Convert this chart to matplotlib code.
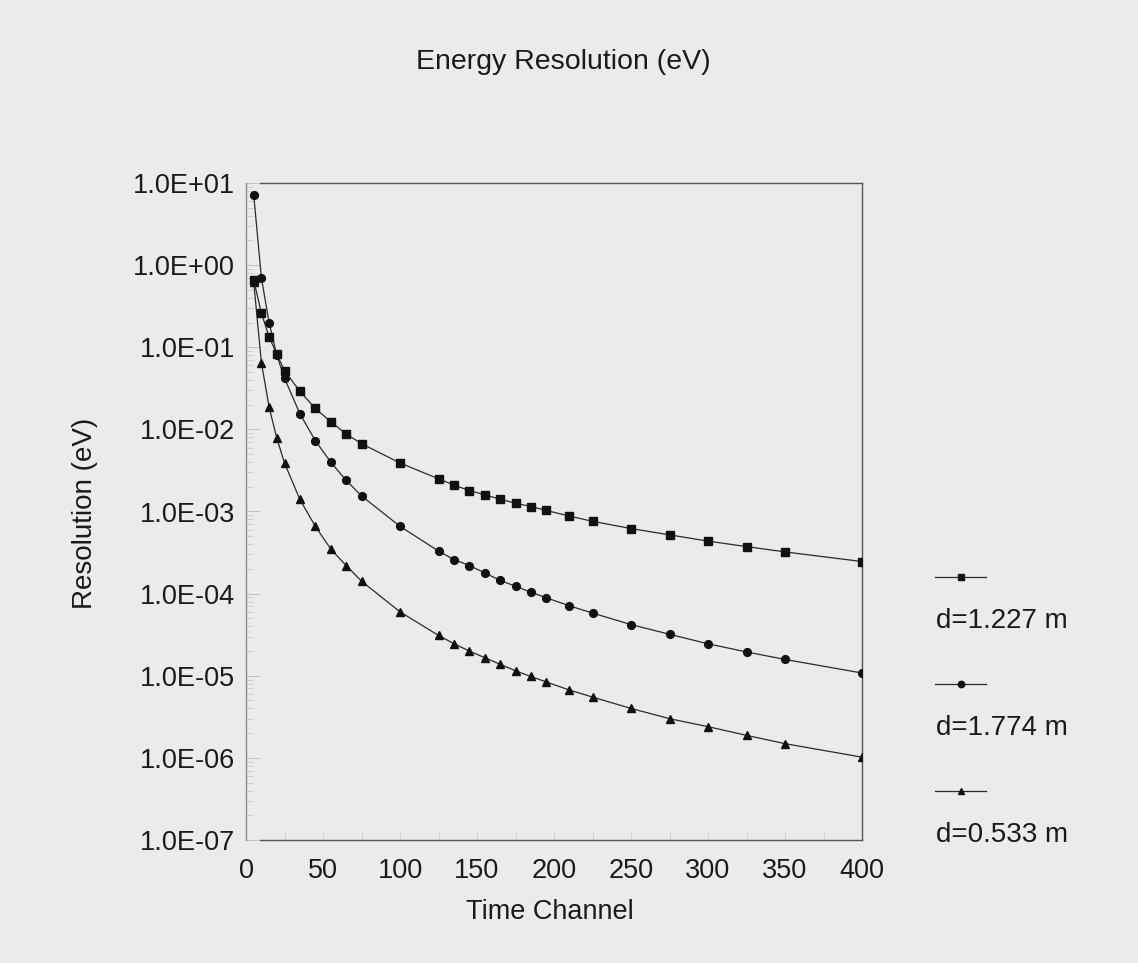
import matplotlib
matplotlib.use("Agg")
import matplotlib.pyplot as plt
from matplotlib.lines import Line2D
from matplotlib.ticker import FuncFormatter, LogLocator, MultipleLocator

plt.rcParams['font.family'] = ['Liberation Sans', 'DejaVu Sans']

# Time channel sampled for every curve
channels = [5, 10, 15, 20, 25, 35, 45, 55, 65, 75, 100, 125, 135, 145, 155,
            165, 175, 185, 195, 210, 225, 250, 275, 300, 325, 350, 400]

# Energy resolution (eV) for each flight distance
res_1227 = [0.66, 0.26, 0.134, 0.082, 0.052, 0.029, 0.018, 0.0124, 0.0088,
            0.0067, 0.0039, 0.0025, 0.0021, 0.0018, 0.0016, 0.00141, 0.00126,
            0.00115, 0.00103, 8.8e-4, 7.6e-4, 6.2e-4, 5.2e-4, 4.36e-4,
            3.74e-4, 3.22e-4, 2.46e-4]
res_1774 = [7.2, 0.70, 0.20, 0.08, 0.042, 0.0155, 0.0073, 0.0040, 0.0024,
            0.00155, 6.6e-4, 3.3e-4, 2.6e-4, 2.2e-4, 1.79e-4, 1.45e-4,
            1.23e-4, 1.04e-4, 8.9e-5, 7.1e-5, 5.8e-5, 4.2e-5, 3.2e-5,
            2.45e-5, 1.95e-5, 1.58e-5, 1.08e-5]
res_0533 = [0.62, 0.065, 0.0187, 0.0078, 0.0039, 0.0014, 6.6e-4, 3.5e-4,
            2.2e-4, 1.42e-4, 6.0e-5, 3.1e-5, 2.46e-5, 2.0e-5, 1.66e-5,
            1.38e-5, 1.15e-5, 9.8e-6, 8.4e-6, 6.7e-6, 5.5e-6, 4.0e-6,
            3.0e-6, 2.4e-6, 1.88e-6, 1.49e-6, 1.02e-6]

labels = ["d=1.227 m", "d=1.774 m", "d=0.533 m"]
markers = ["s", "o", "^"]
marker_sizes = [5.8, 5.6, 6.0]

bg = "#ebebeb"
W, H = 1138, 963
fig = plt.figure(figsize=(W / 100, H / 100), dpi=100, facecolor=bg)
ax = fig.add_axes([246 / W, 1 - 840 / H, (862 - 246) / W, (840 - 183) / H])
ax.set_facecolor(bg)

ax.set_yscale("log")
ax.set_xlim(0, 400)
ax.set_ylim(1e-7, 1e1)

series = [res_1227, res_1774, res_0533]
# draw triangles and circles below the squares
for idx in (2, 1, 0):
    ax.plot(channels, series[idx], color="#2a2a2a", lw=0.9,
            marker=markers[idx], ms=marker_sizes[idx],
            mfc="#111111", mec="#111111", zorder=3 + (2 - idx))

# axis frame: left axis line, offset top/bottom lines, right edge
for side in ("top", "bottom"):
    ax.spines[side].set_visible(False)
ax.spines["left"].set_color("#8a8a8a")
ax.spines["left"].set_linewidth(1.0)
ax.spines["right"].set_color("#555555")
ax.spines["right"].set_linewidth(1.0)
gap = 14 / (862 - 246)
for yv in (0, 1):
    ax.add_line(Line2D([gap, 1], [yv, yv], transform=ax.transAxes,
                       color="#555555", lw=1.0, clip_on=False))

ax.yaxis.set_major_locator(LogLocator(base=10, numticks=20))
ax.yaxis.set_minor_locator(LogLocator(base=10, subs=range(2, 10), numticks=20))
ax.yaxis.set_major_formatter(FuncFormatter(lambda v, p: f"{v:.1E}"))
ax.xaxis.set_major_locator(MultipleLocator(50))
ax.xaxis.set_minor_locator(MultipleLocator(25))

ax.tick_params(axis="y", which="major", direction="in", length=10,
               width=0.6, color="#bcbcbc", labelsize=19.5, pad=8,
               labelcolor="#1a1a1a")
ax.tick_params(axis="y", which="minor", direction="in", length=5,
               width=0.5, color="#c4c4c4")
ax.tick_params(axis="x", which="both", direction="in", length=7,
               width=0.5, color="#cdcdcd", labelsize=19.5, pad=13,
               labelcolor="#1a1a1a")
ax.tick_params(axis="y", which="minor", labelleft=False)

fig.text(563 / W, 1 - 62 / H, "Energy Resolution (eV)", fontsize=20.5,
         ha="center", va="center", color="#1a1a1a")
fig.text(550 / W, 1 - 912 / H, "Time Channel", fontsize=19.5,
         ha="center", va="center", color="#1a1a1a")
fig.text(85 / W, 1 - 513 / H, "Resolution (eV)", fontsize=20, rotation=90,
         ha="center", va="center", color="#1a1a1a")

# legend: sample line with marker above each label
leg_line_y = [577, 684, 791]
leg_text_y = [621, 728, 835]
for i in range(3):
    y = 1 - leg_line_y[i] / H
    fig.add_artist(Line2D([935 / W, 986 / W], [y, y], transform=fig.transFigure,
                          color="#2a2a2a", lw=0.9))
    fig.add_artist(Line2D([960.5 / W], [y], transform=fig.transFigure,
                          marker=markers[i], ms=marker_sizes[i] - 1,
                          mfc="#111111", mec="#111111", lw=0))
    fig.text(936 / W, 1 - leg_text_y[i] / H, labels[i], fontsize=20,
             ha="left", va="center", color="#1a1a1a")

fig.savefig("out.png", dpi=100, facecolor=bg)
